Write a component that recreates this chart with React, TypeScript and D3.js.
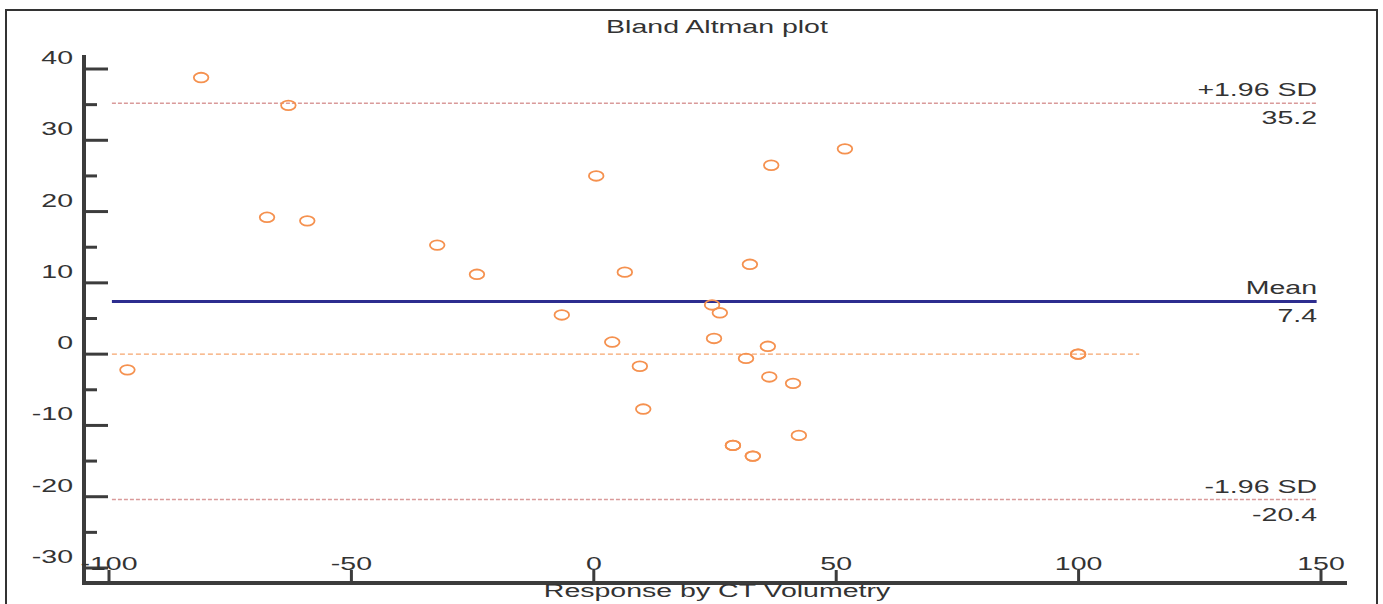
import * as d3 from 'd3';
import React from 'react';

// mean of the two methods (x) vs difference (y)
const meanValues = [
  -81.0, -63.0, -67.4, -59.1, -32.3, -24.1, -96.2, 0.5, -6.6, 6.4, 3.8, 9.5, 10.2,
  24.4, 26.0, 24.8, 32.2, 36.6, 51.8, 35.9, 31.4, 36.2, 41.1, 42.3, 28.7, 32.8, 99.9,
  28.7, 32.8, 99.9
];
const diffValues = [
  38.8, 34.9, 19.2, 18.7, 15.3, 11.2, -2.2, 25.0, 5.5, 11.5, 1.7, -1.7, -7.7,
  6.9, 5.8, 2.2, 12.6, 26.5, 28.8, 1.1, -0.6, -3.2, -4.1, -11.4, -12.8, -14.3, 0.0,
  -12.8, -14.3, 0.0
];

const xTicks = [-100, -50, 0, 50, 100, 150];
const yMajorTicks = [40, 30, 20, 10, 0, -10, -20, -30];
const yMinorTicks = [35, 25, 15, 5, -5, -15, -25];

const meanDiff = 7.4;
const upperLimit = 35.2;
const lowerLimit = -20.4;
const limitRange = [-99.4, 149.1];
const zeroRange = [-99.4, 112.5];

const TITLE = 'Bland Altman plot';
const X_LABEL = 'Response by CT Volumetry';

const WIDTH = 1383;
const HEIGHT = 604;
const SX = 1.5; // the source picture is stretched sideways
const FONT = '"Liberation Sans", Arial, sans-serif';
const AXIS = '#3c3c3c';
const TEXT = '#333';

function Label({x, y, anchor = 'middle', children}) {
  return (
    <g transform={`translate(${x},${y}) scale(${SX},1)`}>
      <text textAnchor={anchor} fontFamily={FONT} fontSize={19} fill={TEXT}>
        {children}
      </text>
    </g>
  );
}

export default function App() {
  const x = d3.scaleLinear().domain([-100, 150]).range([109, 1321]);
  const y = d3.scaleLinear().domain([-30, 40]).range([568, 69]);

  const axisX = 84;
  const axisY = 583;
  const axisTop = 55;
  const axisRight = 1347;
  const labelRight = 1317;

  const refLines = [
    {value: upperLimit, name: '+1.96 SD', color: '#d99a9a', width: 1.5, dash: '4,2', range: limitRange},
    {value: meanDiff, name: 'Mean', color: '#2d2d8f', width: 3, dash: null, range: limitRange},
    {value: lowerLimit, name: '-1.96 SD', color: '#d99a9a', width: 1.5, dash: '4,2', range: limitRange}
  ];

  return (
    <svg width={WIDTH} height={HEIGHT}
      style={{position: 'fixed', left: 0, top: 0, background: '#fff'}}>
      <rect x={6} y={10} width={1371} height={620} fill="#fff" stroke="#333" strokeWidth={2}/>

      <Label x={717} y={33}>{TITLE}</Label>

      {/* zero line */}
      <line x1={x(zeroRange[0])} x2={x(zeroRange[1])} y1={y(0)} y2={y(0)}
        stroke="#f6a56e" strokeWidth={1.3} strokeDasharray="5,3"/>

      {refLines.map(line => (
        <g key={line.name}>
          <line x1={x(line.range[0])} x2={x(line.range[1])} y1={y(line.value)} y2={y(line.value)}
            stroke={line.color} strokeWidth={line.width}
            strokeDasharray={line.dash || undefined}/>
          <Label x={labelRight} y={y(line.value) - 7} anchor="end">{line.name}</Label>
          <Label x={labelRight} y={y(line.value) + 21} anchor="end">{line.value.toFixed(1)}</Label>
        </g>
      ))}

      {meanValues.map((mv, i) => (
        <ellipse key={i} cx={x(mv)} cy={y(diffValues[i])} rx={7.3} ry={4.8}
          fill="none" stroke="#f5914f" strokeWidth={1.8}/>
      ))}

      {/* y axis */}
      <line x1={axisX} x2={axisX} y1={axisTop} y2={axisY} stroke={AXIS} strokeWidth={4}/>
      {yMajorTicks.map(t => (
        <g key={t}>
          <line x1={axisX} x2={axisX + 24} y1={y(t)} y2={y(t)} stroke={AXIS} strokeWidth={3}/>
          <Label x={73} y={y(t) - 5} anchor="end">{t}</Label>
        </g>
      ))}
      {yMinorTicks.map(t => (
        <line key={t} x1={axisX} x2={axisX + 13} y1={y(t)} y2={y(t)} stroke={AXIS} strokeWidth={3}/>
      ))}

      {/* x axis */}
      <line x1={axisX - 2} x2={axisRight} y1={axisY} y2={axisY} stroke={AXIS} strokeWidth={4}/>
      {xTicks.map(t => (
        <g key={t}>
          <line x1={x(t)} x2={x(t)} y1={axisY} y2={axisY - 13} stroke={AXIS} strokeWidth={3}/>
          <Label x={x(t)} y={570}>{t}</Label>
        </g>
      ))}
      <Label x={717} y={597}>{X_LABEL}</Label>
    </svg>
  );
}
